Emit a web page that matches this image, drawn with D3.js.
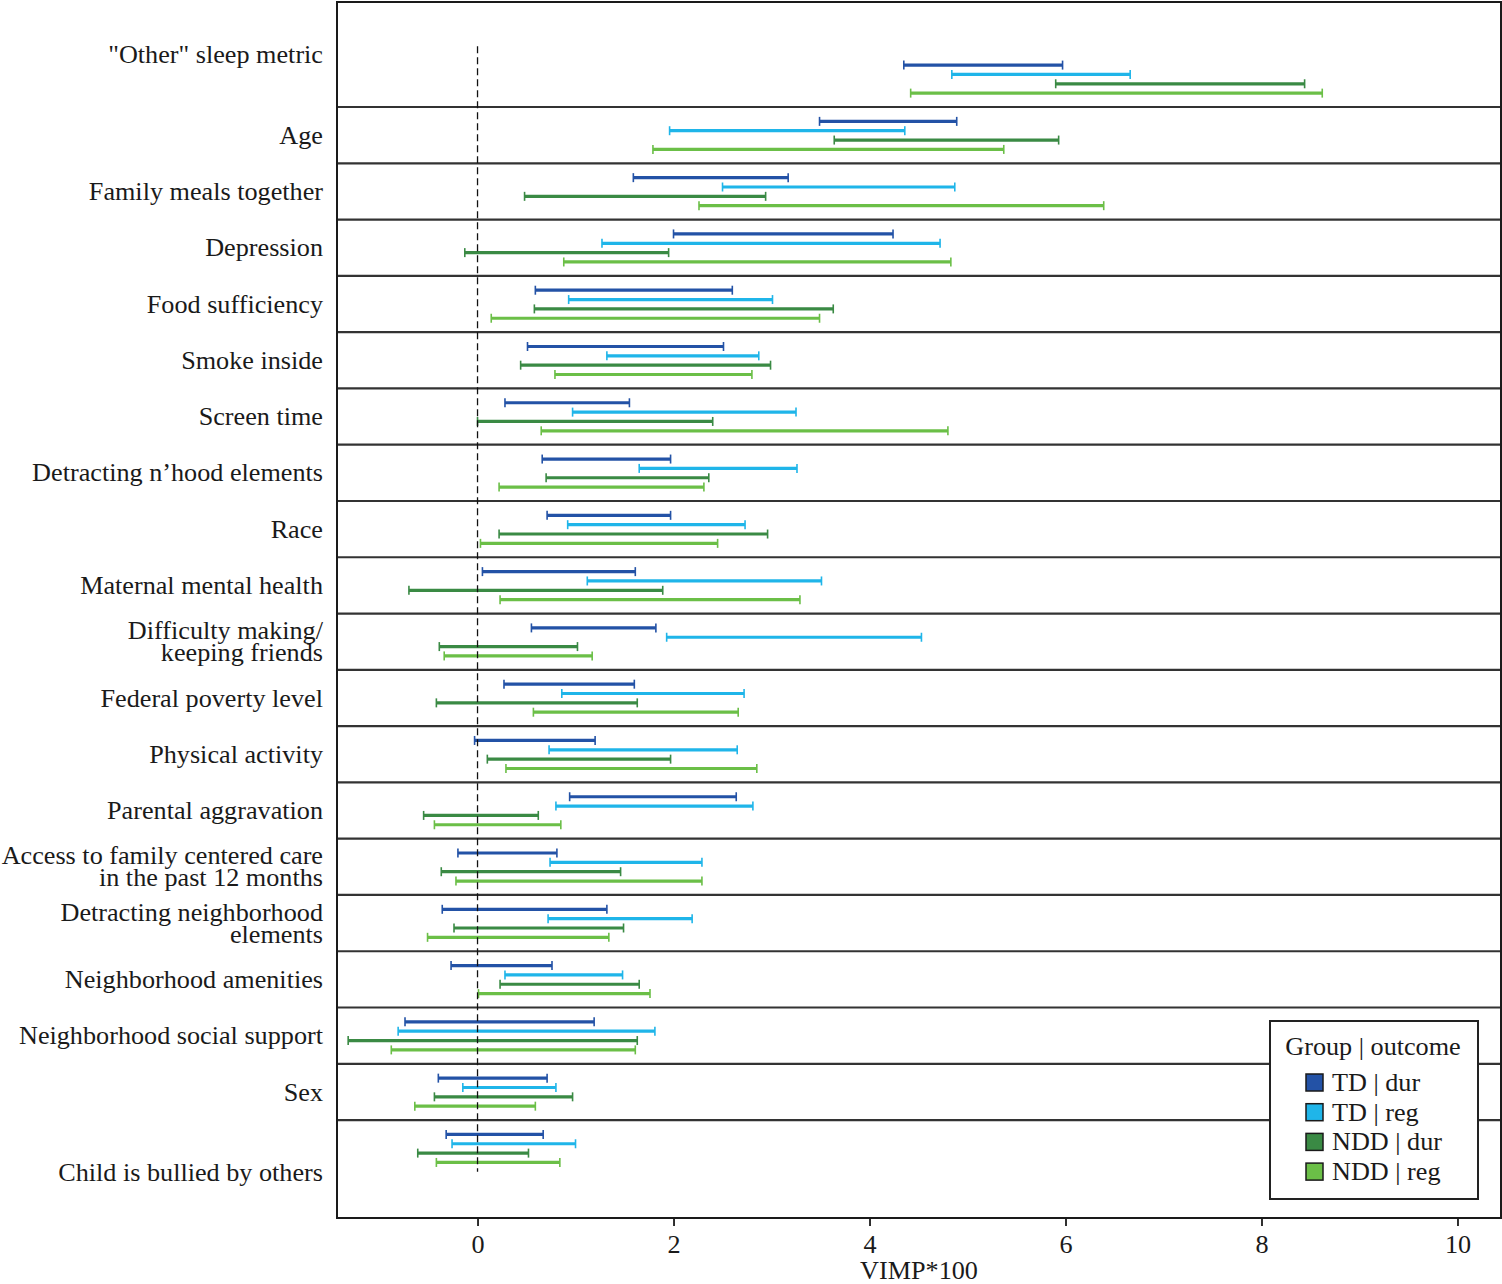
<!DOCTYPE html>
<html>
<head>
<meta charset="utf-8">
<script src="https://cdn.jsdelivr.net/npm/d3@7"></script>
<style>
  html, body { margin: 0; padding: 0; background: #ffffff; }
  svg { display: block; }
  text { font-family: "Liberation Serif", "Times New Roman", serif; fill: #1a1a1a; }
</style>
</head>
<body>
<svg id="chart" width="1502" height="1284"></svg>
<script>
// ---------------- DATA ----------------
const categories = [
  "\"Other\" sleep metric",
  "Age",
  "Family meals together",
  "Depression",
  "Food sufficiency",
  "Smoke inside",
  "Screen time",
  "Detracting n\u2019hood elements",
  "Race",
  "Maternal mental health",
  "Difficulty making/\nkeeping friends",
  "Federal poverty level",
  "Physical activity",
  "Parental aggravation",
  "Access to family centered care\nin the past 12 months",
  "Detracting neighborhood\nelements",
  "Neighborhood amenities",
  "Neighborhood social support",
  "Sex",
  "Child is bullied by others"
];

const seriesNames = ["TD | dur", "TD | reg", "NDD | dur", "NDD | reg"];
const seriesColors = ["#2352a6", "#1fb5e9", "#3a8a44", "#6bbf47"];

// [lower, upper] per category
const tdDur = [
  [4.35, 5.97], [3.49, 4.89], [1.59, 3.17], [2.00, 4.24], [0.59, 2.60],
  [0.51, 2.51], [0.28, 1.55], [0.66, 1.97], [0.71, 1.97], [0.05, 1.61],
  [0.55, 1.82], [0.27, 1.60], [-0.03, 1.20], [0.94, 2.64], [-0.20, 0.81],
  [-0.36, 1.32], [-0.27, 0.76], [-0.74, 1.19], [-0.40, 0.71], [-0.32, 0.67]
];
const tdReg = [
  [4.84, 6.66], [1.96, 4.36], [2.50, 4.87], [1.27, 4.72], [0.93, 3.01],
  [1.32, 2.87], [0.97, 3.25], [1.65, 3.26], [0.92, 2.73], [1.12, 3.51],
  [1.93, 4.53], [0.86, 2.72], [0.73, 2.65], [0.80, 2.81], [0.74, 2.29],
  [0.72, 2.19], [0.28, 1.48], [-0.81, 1.81], [-0.15, 0.80], [-0.26, 1.00]
];
const nddDur = [
  [5.90, 8.44], [3.64, 5.93], [0.48, 2.94], [-0.13, 1.95], [0.58, 3.63],
  [0.44, 2.99], [0.00, 2.40], [0.70, 2.36], [0.22, 2.96], [-0.70, 1.89],
  [-0.39, 1.02], [-0.42, 1.63], [0.10, 1.97], [-0.55, 0.62], [-0.37, 1.46],
  [-0.24, 1.49], [0.23, 1.65], [-1.32, 1.63], [-0.44, 0.97], [-0.61, 0.52]
];
const nddReg = [
  [4.42, 8.62], [1.79, 5.37], [2.26, 6.39], [0.88, 4.83], [0.14, 3.49],
  [0.79, 2.80], [0.65, 4.80], [0.22, 2.31], [0.03, 2.45], [0.23, 3.29],
  [-0.34, 1.17], [0.57, 2.66], [0.29, 2.85], [-0.44, 0.85], [-0.22, 2.29],
  [-0.51, 1.34], [0.01, 1.76], [-0.88, 1.61], [-0.64, 0.59], [-0.42, 0.84]
];

const xTicks = [0, 2, 4, 6, 8, 10];
const xTitle = "VIMP*100";
const legendTitle = "Group | outcome";

// ---------------- LAYOUT ----------------
const plotL = 337, plotR = 1501, plotT = 2, plotB = 1218;
const FONT = 26.2;

const svg = d3.select("#chart");

const x = d3.scaleLinear().domain([-1.434, 10.444]).range([plotL, plotR]);
// row index space: row i occupies [i, i+1]; first and last rows padded
const y = d3.scaleLinear().domain([-0.866, 20.74]).range([plotT, plotB]);

const allSeries = [tdDur, tdReg, nddDur, nddReg];
const bars = [];
allSeries.forEach((s, k) => {
  s.forEach((d, i) => bars.push({ row: i, k: k, lo: d[0], hi: d[1] }));
});
const barPos = d => y(d.row + 0.255 + d.k * 0.166);

// plot background
svg.append("rect").attr("x", plotL).attr("y", plotT)
  .attr("width", plotR - plotL).attr("height", plotB - plotT)
  .attr("fill", "#ffffff");

// row separators
svg.append("g").selectAll("line")
  .data(d3.range(1, categories.length))
  .join("line")
  .attr("x1", plotL).attr("x2", plotR)
  .attr("y1", d => y(d)).attr("y2", d => y(d))
  .attr("stroke", "#333333").attr("stroke-width", 2.2);

// bars
const gBars = svg.append("g");
gBars.selectAll("line.bar").data(bars).join("line")
  .attr("class", "bar")
  .attr("x1", d => x(d.lo)).attr("x2", d => x(d.hi))
  .attr("y1", barPos).attr("y2", barPos)
  .attr("stroke", d => seriesColors[d.k]).attr("stroke-width", 3.2);
gBars.selectAll("line.capl").data(bars).join("line")
  .attr("class", "capl")
  .attr("x1", d => x(d.lo)).attr("x2", d => x(d.lo))
  .attr("y1", d => barPos(d) - 4.5).attr("y2", d => barPos(d) + 4.5)
  .attr("stroke", d => seriesColors[d.k]).attr("stroke-width", 1.6);
gBars.selectAll("line.caph").data(bars).join("line")
  .attr("class", "caph")
  .attr("x1", d => x(d.hi)).attr("x2", d => x(d.hi))
  .attr("y1", d => barPos(d) - 4.5).attr("y2", d => barPos(d) + 4.5)
  .attr("stroke", d => seriesColors[d.k]).attr("stroke-width", 1.6);

// reference dashed line at 0
svg.append("line")
  .attr("x1", x(0)).attr("x2", x(0))
  .attr("y1", y(-0.08)).attr("y2", y(19.92))
  .attr("stroke", "#111").attr("stroke-width", 1.3)
  .attr("stroke-dasharray", "7,4");

// plot border
svg.append("rect").attr("x", plotL).attr("y", plotT)
  .attr("width", plotR - plotL).attr("height", plotB - plotT)
  .attr("fill", "none").attr("stroke", "#1a1a1a").attr("stroke-width", 2);

// x axis
const xAxis = d3.axisBottom(x).tickValues(xTicks).tickSize(8).tickPadding(8)
  .tickFormat(d3.format("d"));
const gx = svg.append("g").attr("transform", `translate(0,${plotB})`).call(xAxis);
gx.select(".domain").remove();
gx.selectAll(".tick line").attr("stroke", "#1a1a1a").attr("stroke-width", 1.8);
gx.selectAll(".tick text")
  .attr("font-family", "Liberation Serif, Times New Roman, serif")
  .attr("font-size", FONT).attr("fill", "#1a1a1a");

svg.append("text")
  .attr("x", (plotL + plotR) / 2).attr("y", 1279)
  .attr("text-anchor", "middle").attr("font-size", FONT)
  .text(xTitle);

// y labels
const lineGap = 22;
const edgeHalf = (y(1) - plotT) / 2;
const labelCenter = i => {
  if (i === 0) return y(1) - edgeHalf;
  if (i === categories.length - 1) return y(i) + edgeHalf;
  return y(i + 0.5);
};
const gy = svg.append("g");
categories.forEach((c, i) => {
  const lines = c.split("\n");
  const cy = labelCenter(i);
  const first = cy - (lines.length - 1) * lineGap / 2 + FONT * 0.33;
  const t = gy.append("text")
    .attr("text-anchor", "end").attr("font-size", FONT);
  lines.forEach((ln, j) => {
    t.append("tspan").attr("x", 323).attr("y", first + j * lineGap).text(ln);
  });
});

// legend
const lg = svg.append("g");
lg.append("rect").attr("x", 1270).attr("y", 1021).attr("width", 208).attr("height", 178)
  .attr("fill", "#ffffff").attr("stroke", "#222").attr("stroke-width", 2);
lg.append("text").attr("x", 1373).attr("y", 1055)
  .attr("text-anchor", "middle").attr("font-size", FONT).text(legendTitle);
const items = lg.selectAll("g.item").data(seriesNames).join("g")
  .attr("class", "item")
  .attr("transform", (d, i) => `translate(1306,${1074 + i * 29.7})`);
items.append("rect").attr("width", 17).attr("height", 17)
  .attr("fill", (d, i) => seriesColors[i]).attr("stroke", "#1a1a1a").attr("stroke-width", 1.5);
items.append("text").attr("x", 26).attr("y", 17).attr("font-size", FONT).text(d => d);
</script>
</body>
</html>
